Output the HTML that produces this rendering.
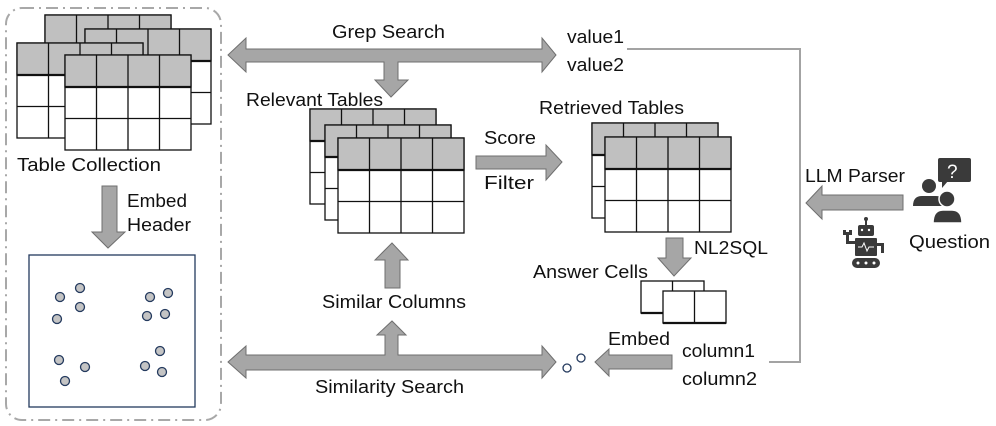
<!DOCTYPE html>
<html><head><meta charset="utf-8"><style>
html,body{margin:0;padding:0;background:#fff;}
svg{display:block;}
text{font-family:"Liberation Sans","DejaVu Sans",sans-serif;font-size:18px;fill:#111;}
</style></head><body>
<svg width="996" height="426" viewBox="0 0 996 426" xmlns="http://www.w3.org/2000/svg">
<defs>
<g id="tbl">
<rect x="0" y="0" width="126" height="95" fill="#fff" stroke="#111" stroke-width="1.3"/>
<rect x="0" y="0" width="126" height="32" fill="#c0c0c0" stroke="#111" stroke-width="1.3"/>
<line x1="31.5" y1="0" x2="31.5" y2="95" stroke="#111" stroke-width="1.3"/>
<line x1="63" y1="0" x2="63" y2="95" stroke="#111" stroke-width="1.3"/>
<line x1="94.5" y1="0" x2="94.5" y2="95" stroke="#111" stroke-width="1.3"/>
<line x1="0" y1="32" x2="126" y2="32" stroke="#111" stroke-width="2.2"/>
<line x1="0" y1="63.5" x2="126" y2="63.5" stroke="#111" stroke-width="1.3"/>
</g>
</defs>

<rect x="6" y="8" width="215" height="412" rx="16" fill="none" stroke="#a8a8a8" stroke-width="2" stroke-dasharray="12,5,2,5"/>

<use href="#tbl" x="45" y="15"/>
<use href="#tbl" x="85" y="29"/>
<use href="#tbl" x="17" y="43"/>
<use href="#tbl" x="65" y="55"/>
<text x="17" y="171" textLength="144" lengthAdjust="spacingAndGlyphs">Table Collection</text>

<polygon points="102,186 117,186 117,232 125,232 108,248 92,232 102,232" fill="#a6a6a6" stroke="#6f6f6f" stroke-width="1"/>
<text x="127" y="207" textLength="60" lengthAdjust="spacingAndGlyphs">Embed</text>
<text x="127" y="231" textLength="64" lengthAdjust="spacingAndGlyphs">Header</text>

<rect x="29" y="255" width="166" height="152" fill="#fff" stroke="#243a5e" stroke-width="1.3"/>
<g fill="#c4c4c4" stroke="#243a5e" stroke-width="1.3">
<circle cx="60" cy="297" r="4.5"/><circle cx="80" cy="288" r="4.5"/><circle cx="80" cy="307" r="4.5"/><circle cx="57" cy="319" r="4.5"/>
<circle cx="150" cy="297" r="4.5"/><circle cx="168" cy="293" r="4.5"/><circle cx="147" cy="316" r="4.5"/><circle cx="165" cy="314" r="4.5"/>
<circle cx="59" cy="360" r="4.5"/><circle cx="85" cy="367" r="4.5"/><circle cx="65" cy="381" r="4.5"/>
<circle cx="160" cy="351" r="4.5"/><circle cx="145" cy="366" r="4.5"/><circle cx="162" cy="372" r="4.5"/>
</g>

<polygon points="228,55 246,38 246,49 542,49 542,38 556,55 542,72 542,62 398,62 398,80 408,80 391,97 375,80 384,80 384,62 246,62 246,72" fill="#a6a6a6" stroke="#6f6f6f" stroke-width="1"/>
<text x="332" y="38" textLength="113" lengthAdjust="spacingAndGlyphs">Grep Search</text>
<text x="567" y="43" textLength="57" lengthAdjust="spacingAndGlyphs">value1</text>
<text x="567" y="71" textLength="57" lengthAdjust="spacingAndGlyphs">value2</text>

<text x="246" y="106" textLength="137" lengthAdjust="spacingAndGlyphs">Relevant Tables</text>
<use href="#tbl" x="310" y="109"/>
<use href="#tbl" x="325" y="125"/>
<use href="#tbl" x="338" y="138"/>

<polygon points="476,156 546,156 546,145 562,162 546,180 546,169 476,169" fill="#a6a6a6" stroke="#6f6f6f" stroke-width="1"/>
<text x="484" y="144" textLength="52" lengthAdjust="spacingAndGlyphs">Score</text>
<text x="484" y="189" textLength="50" lengthAdjust="spacingAndGlyphs">Filter</text>

<text x="539" y="114" textLength="145" lengthAdjust="spacingAndGlyphs">Retrieved Tables</text>
<use href="#tbl" x="592" y="123"/>
<use href="#tbl" x="605" y="137"/>

<polygon points="666,238 683,238 683,258 691,258 674,276 658,258 666,258" fill="#a6a6a6" stroke="#6f6f6f" stroke-width="1"/>
<text x="694" y="254" textLength="74" lengthAdjust="spacingAndGlyphs">NL2SQL</text>
<text x="533" y="278" textLength="115" lengthAdjust="spacingAndGlyphs">Answer Cells</text>

<g stroke="#111" stroke-width="1.3" fill="#fff">
<rect x="641" y="281" width="63" height="32"/><line x1="672.5" y1="281" x2="672.5" y2="313"/>
<line x1="641" y1="313" x2="704" y2="313" stroke-width="2.2"/>
<rect x="663" y="291" width="63" height="32"/><line x1="694.5" y1="291" x2="694.5" y2="323"/>
<line x1="663" y1="323" x2="726" y2="323" stroke-width="2.2"/>
</g>

<polygon points="385,288 400,288 400,260 408,260 392,243 375,260 385,260" fill="#a6a6a6" stroke="#6f6f6f" stroke-width="1"/>
<text x="322" y="308" textLength="144" lengthAdjust="spacingAndGlyphs">Similar Columns</text>

<polygon points="228,362 246,346 246,355 385,355 385,335 377,335 392,321 406,335 398,335 398,355 542,355 542,346 556,362 542,378 542,370 246,370 246,378" fill="#a6a6a6" stroke="#6f6f6f" stroke-width="1"/>
<text x="315" y="393" textLength="149" lengthAdjust="spacingAndGlyphs">Similarity Search</text>

<circle cx="567" cy="368" r="4" fill="#fff" stroke="#243a5e" stroke-width="1.3"/>
<circle cx="581" cy="358" r="4" fill="#fff" stroke="#243a5e" stroke-width="1.3"/>

<polygon points="595,362 609,349 609,355 672,355 672,369 609,369 609,376" fill="#a6a6a6" stroke="#6f6f6f" stroke-width="1"/>
<text x="608" y="345" textLength="62" lengthAdjust="spacingAndGlyphs">Embed</text>
<text x="682" y="357" textLength="73" lengthAdjust="spacingAndGlyphs">column1</text>
<text x="682" y="385" textLength="75" lengthAdjust="spacingAndGlyphs">column2</text>

<polyline points="627,49 800,49 800,362 769,362" fill="none" stroke="#a3a3a3" stroke-width="2"/>

<polygon points="806,203 822,186 822,195 903,195 903,210 822,210 822,219" fill="#a6a6a6" stroke="#6f6f6f" stroke-width="1"/>
<text x="805" y="182" textLength="100" lengthAdjust="spacingAndGlyphs">LLM Parser</text>

<rect x="938" y="158" width="33" height="24" rx="2" fill="#3a3a3a"/>
<polygon points="942,181 948,181 942,188" fill="#3a3a3a"/>
<text x="947" y="178" style="fill:#fff;font-size:19px;">?</text>
<circle cx="929" cy="186" r="7" fill="#3a3a3a"/>
<path d="M913,206 Q913,196 922,196 L936,196 Q944,196 944,206 Z" fill="#3a3a3a"/>
<circle cx="947" cy="199" r="8" fill="#3a3a3a" stroke="#fff" stroke-width="1.5"/>
<path d="M933,223 Q933,210 943,210 L952,210 Q962,210 962,223 Z" fill="#3a3a3a" stroke="#fff" stroke-width="1.5"/>
<text x="909" y="248" textLength="81" lengthAdjust="spacingAndGlyphs">Question</text>

<g fill="#3a3a3a">
<circle cx="866" cy="219" r="2"/><rect x="865" y="219" width="2" height="6"/>
<rect x="858" y="225" width="16" height="11" rx="2"/>
<rect x="855" y="238" width="22" height="18" rx="1"/>
<rect x="846" y="241" width="10" height="3"/><rect x="846" y="232" width="3" height="10"/>
<rect x="843" y="230" width="3" height="5"/><rect x="849" y="230" width="3" height="5"/>
<rect x="876" y="243" width="8" height="3"/><rect x="881" y="243" width="3" height="10"/>
<rect x="852" y="258" width="28" height="10" rx="5"/>
</g>
<g fill="#fff"><circle cx="862" cy="230" r="1.2"/><circle cx="869" cy="230" r="1.2"/>
<circle cx="858" cy="263" r="1.5"/><circle cx="866" cy="263" r="1.5"/><circle cx="874" cy="263" r="1.5"/></g>
<polyline points="858,247 862,247 864,243 867,251 869,247 874,247" fill="none" stroke="#fff" stroke-width="1"/>
</svg>
</body></html>
